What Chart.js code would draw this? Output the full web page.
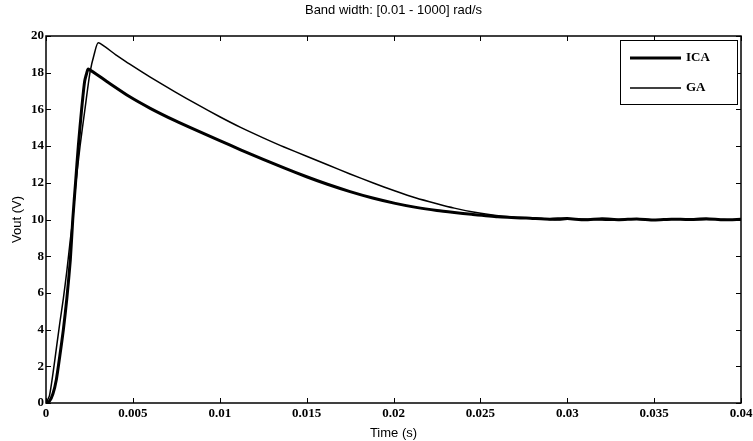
<!DOCTYPE html>
<html>
<head>
<meta charset="utf-8">
<script src="https://cdn.jsdelivr.net/npm/chart.js@4/dist/chart.umd.min.js"></script>
<style>
  html, body { margin: 0; padding: 0; background: #fff; }
  #wrap { width: 753px; height: 441px; }
</style>
</head>
<body>
<div id="wrap"><canvas id="vout"></canvas></div>
<script>
// Réponse en tension (temps en s, tension en V)
const icaTime = [0, 0.0002, 0.0004, 0.0006, 0.0008, 0.001, 0.0012, 0.0014, 0.00154, 0.0017, 0.00186,
  0.00205, 0.00222, 0.00235, 0.00244, 0.0035, 0.0048, 0.006, 0.0074, 0.0087, 0.010, 0.0112,
  0.0125, 0.0137, 0.015, 0.0162, 0.0175, 0.0188, 0.0201, 0.0213, 0.0225, 0.0235, 0.0245,
  0.026, 0.028, 0.029, 0.030, 0.031, 0.032, 0.033, 0.034, 0.035, 0.036, 0.037, 0.038,
  0.039, 0.040];
const icaVout = [0, 0.1, 0.5, 1.3, 2.6, 4.0, 5.7, 7.8, 10.0, 12.0, 14.0,
  16.0, 17.5, 18.0, 18.2, 17.52, 16.7, 16.06, 15.4, 14.84, 14.3, 13.8,
  13.28, 12.81, 12.33, 11.92, 11.52, 11.17, 10.88, 10.66, 10.49, 10.38, 10.28,
  10.15, 10.06, 10.02, 10.05, 9.98, 10.04, 9.99, 10.03, 9.97, 10.02, 10.0, 10.04,
  9.98, 10.01];

const gaTime = [0, 0.0002, 0.0004, 0.0006, 0.0008, 0.001, 0.0012, 0.0014, 0.00154, 0.0017, 0.00196,
  0.00224, 0.00253, 0.0028, 0.00301, 0.004, 0.0048, 0.006, 0.0074, 0.0087, 0.010, 0.0112,
  0.0125, 0.0137, 0.015, 0.0162, 0.0175, 0.0188, 0.0201, 0.0213, 0.0225, 0.0235, 0.0245,
  0.0255, 0.027, 0.0285, 0.0295, 0.0305, 0.0315, 0.0325, 0.0335, 0.0345, 0.0355, 0.0365,
  0.0375, 0.0385, 0.0395, 0.040];
const gaVout = [0, 0.4, 1.6, 3.0, 4.4, 5.7, 7.2, 8.9, 10.0, 11.8, 14.0,
  16.0, 18.0, 19.1, 19.63, 18.99, 18.48, 17.76, 16.97, 16.27, 15.6, 15.02,
  14.45, 13.95, 13.45, 12.98, 12.48, 12.0, 11.55, 11.17, 10.86, 10.62, 10.42,
  10.27, 10.12, 10.05, 9.97, 10.04, 10.0, 9.96, 10.03, 10.0, 9.98, 10.04,
  9.99, 10.02, 9.98, 10.0];

const seriesLabels = ['ICA', 'GA'];
const xMin = 0, xMax = 0.04, xStep = 0.005;
const yMin = 0, yMax = 20, yStep = 2;

function toPoints(ts, vs) {
  return ts.map((t, i) => ({ x: t, y: vs[i] }));
}

// cadre + graduations vers l'intérieur sur les 4 côtés
const framePlugin = {
  id: 'frame',
  afterDraw(chart) {
    const { ctx, chartArea: a, scales } = chart;
    ctx.save();
    ctx.strokeStyle = '#000';
    ctx.lineWidth = 1;
    ctx.beginPath();
    for (const tk of scales.x.ticks) {
      const px = Math.round(scales.x.getPixelForValue(tk.value)) + 0.5;
      ctx.moveTo(px, a.bottom); ctx.lineTo(px, a.bottom - 5);
      ctx.moveTo(px, a.top); ctx.lineTo(px, a.top + 5);
    }
    for (const tk of scales.y.ticks) {
      const py = Math.round(scales.y.getPixelForValue(tk.value)) + 0.5;
      ctx.moveTo(a.left, py); ctx.lineTo(a.left + 5, py);
      ctx.moveTo(a.right, py); ctx.lineTo(a.right - 5, py);
    }
    ctx.stroke();
    ctx.lineWidth = 1.5;
    ctx.strokeRect(a.left, a.top, a.right - a.left, a.bottom - a.top);
    ctx.restore();
  }
};

// légende encadrée en haut à droite
const boxLegend = {
  id: 'boxLegend',
  afterDraw(chart) {
    const { ctx } = chart;
    const x0 = 620, y0 = 40, w = 117, h = 64;
    ctx.save();
    ctx.fillStyle = '#fff';
    ctx.fillRect(x0, y0, w, h);
    ctx.strokeStyle = '#000';
    ctx.lineWidth = 1;
    ctx.strokeRect(x0 + 0.5, y0 + 0.5, w, h);
    ctx.font = 'bold 13px "Liberation Serif"';
    ctx.textBaseline = 'middle';
    ctx.fillStyle = '#000';
    chart.data.datasets.forEach((ds, i) => {
      const yy = y0 + 18 + i * 30;
      ctx.lineWidth = ds.borderWidth;
      ctx.beginPath();
      ctx.moveTo(x0 + 10, yy); ctx.lineTo(x0 + 61, yy);
      ctx.stroke();
      ctx.fillText(ds.label, x0 + 66, yy);
    });
    ctx.restore();
  }
};

new Chart(document.getElementById('vout'), {
  type: 'line',
  data: {
    datasets: [
      {
        label: seriesLabels[0],
        data: toPoints(icaTime, icaVout),
        borderColor: '#000',
        borderWidth: 3,
        pointRadius: 0,
        tension: 0.2
      },
      {
        label: seriesLabels[1],
        data: toPoints(gaTime, gaVout),
        borderColor: '#000',
        borderWidth: 1.5,
        pointRadius: 0,
        tension: 0.2
      }
    ]
  },
  options: {
    responsive: true,
    maintainAspectRatio: false,
    animation: false,
    layout: { padding: { left: 0, right: 12, top: 0, bottom: 0 } },
    plugins: {
      legend: { display: false },
      tooltip: { enabled: false },
      title: {
        display: true,
        fullSize: false,
        text: 'Band width: [0.01 - 1000] rad/s',
        color: '#000',
        font: { family: '"Liberation Sans"', size: 13, weight: 'normal' },
        padding: { top: 2.2, bottom: 18.2 }
      }
    },
    scales: {
      x: {
        type: 'linear',
        min: xMin, max: xMax,
        grid: { display: false, drawTicks: false },
        border: { display: false },
        ticks: {
          stepSize: xStep,
          maxRotation: 0,
          padding: 2.7,
          color: '#000',
          font: { family: '"Liberation Serif"', size: 13, weight: 'bold' },
          callback: v => String(Number(v.toFixed(3)))
        },
        title: {
          display: true,
          text: 'Time (s)',
          color: '#000',
          font: { family: '"Liberation Sans"', size: 13 },
          padding: { top: 0, bottom: 0.2 }
        },
        afterFit(s) { s.height = 38; s.paddingLeft = 0; s.paddingRight = 0; }
      },
      y: {
        min: yMin, max: yMax,
        grid: { display: false, drawTicks: false },
        border: { display: false },
        ticks: {
          stepSize: yStep,
          padding: 2,
          color: '#000',
          font: { family: '"Liberation Serif"', size: 13, weight: 'bold' }
        },
        title: {
          display: true,
          text: 'Vout (V)',
          color: '#000',
          font: { family: '"Liberation Sans"', size: 13 },
          padding: { top: 9.2, bottom: 0 }
        },
        afterFit(s) { s.width = 46; }
      }
    }
  },
  plugins: [framePlugin, boxLegend]
});
</script>
</body>
</html>
